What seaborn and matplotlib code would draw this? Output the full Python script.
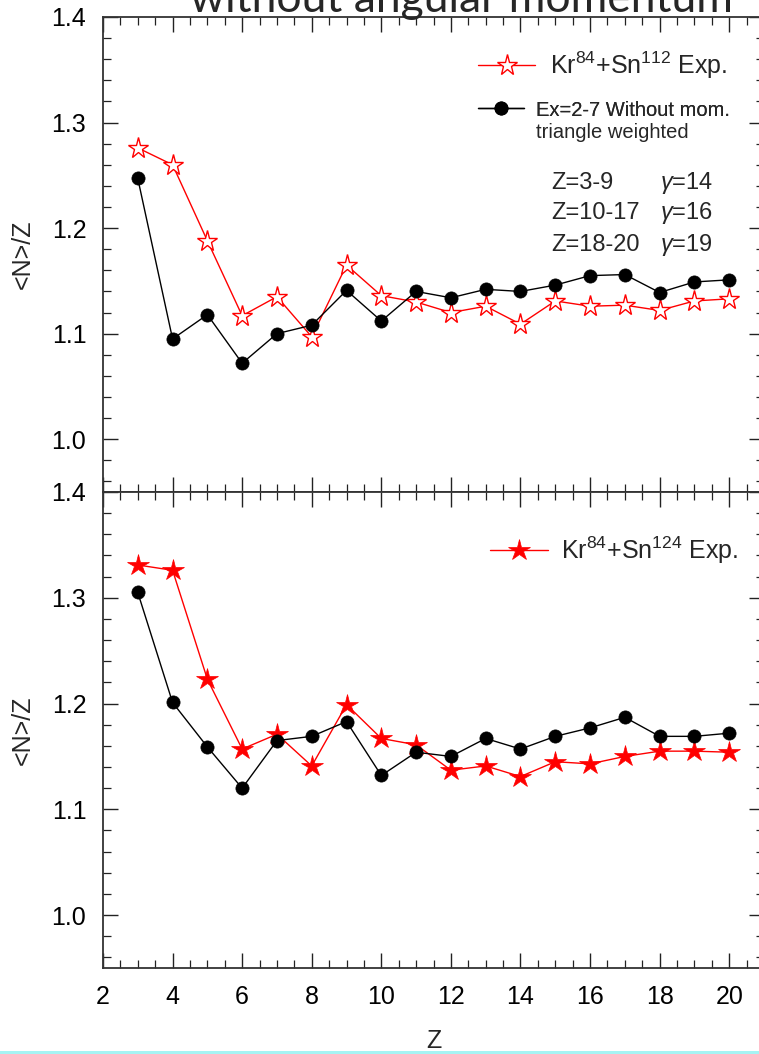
import matplotlib
matplotlib.use("Agg")
import matplotlib.pyplot as plt
import seaborn as sns
import pandas as pd
from matplotlib.ticker import MultipleLocator, FormatStrFormatter
from matplotlib.patches import Rectangle

# ---------------- data ----------------
Z = list(range(3, 21))
exp_sn112 = [1.276, 1.260, 1.188, 1.117, 1.135, 1.097, 1.165, 1.136, 1.130,
             1.120, 1.126, 1.109, 1.131, 1.126, 1.127, 1.122, 1.131, 1.133]
calc_top = [1.247, 1.095, 1.118, 1.072, 1.100, 1.108, 1.141, 1.112, 1.140,
            1.134, 1.142, 1.140, 1.146, 1.155, 1.156, 1.139, 1.149, 1.151]
exp_sn124 = [1.331, 1.326, 1.223, 1.157, 1.171, 1.141, 1.199, 1.167, 1.161,
             1.137, 1.141, 1.131, 1.145, 1.143, 1.150, 1.155, 1.155, 1.154]
calc_bottom = [1.305, 1.201, 1.159, 1.120, 1.165, 1.169, 1.183, 1.132, 1.154,
               1.150, 1.167, 1.157, 1.169, 1.177, 1.187, 1.169, 1.169, 1.172]

label_sn112 = "Kr$^{84}$+Sn$^{112}$ Exp."
label_sn124 = "Kr$^{84}$+Sn$^{124}$ Exp."
label_calc_1 = "Ex=2-7 Without mom."
label_calc_2 = "triangle weighted"
gamma_z = ["Z=3-9", "Z=10-17", "Z=18-20"]
gamma_v = ["$\\mathit{\\gamma}$=14", "$\\mathit{\\gamma}$=16", "$\\mathit{\\gamma}$=19"]
title = "without angular momentum"

# ---------------- style ----------------
sns.set_theme(style="ticks")
plt.rcParams["font.family"] = ["Liberation Sans", "DejaVu Sans"]
plt.rcParams["mathtext.fontset"] = "custom"
plt.rcParams["mathtext.rm"] = "Liberation Sans"
plt.rcParams["mathtext.it"] = "Liberation Sans:italic"
plt.rcParams["mathtext.default"] = "regular"

W, H = 759, 1054
fig = plt.figure(figsize=(W / 100, H / 100), dpi=100)
fig.patch.set_facecolor("white")


def fx(px):
    return px / W


def fy(py):
    return 1 - py / H


L, R = 103, 764
ax1 = fig.add_axes([fx(L), fy(492), (R - L) / W, (492 - 17) / H])
ax2 = fig.add_axes([fx(L), fy(968), (R - L) / W, (968 - 492) / H])

df_top = pd.DataFrame({"Z": Z, "exp": exp_sn112, "calc": calc_top})
df_bot = pd.DataFrame({"Z": Z, "exp": exp_sn124, "calc": calc_bottom})

# top panel
sns.lineplot(data=df_top, x="Z", y="exp", ax=ax1, color="red", linewidth=1.0,
             marker="*", markersize=15.5, markerfacecolor="white",
             markeredgecolor="red", markeredgewidth=1.0, legend=False)
sns.lineplot(data=df_top, x="Z", y="calc", ax=ax1, color="black", linewidth=1.0,
             marker="o", markersize=9.5, markerfacecolor="black",
             markeredgecolor="black", markeredgewidth=0.5, legend=False)
# bottom panel
sns.lineplot(data=df_bot, x="Z", y="exp", ax=ax2, color="red", linewidth=1.0,
             marker="*", markersize=16, markerfacecolor="red",
             markeredgecolor="red", markeredgewidth=0.5, legend=False)
sns.lineplot(data=df_bot, x="Z", y="calc", ax=ax2, color="black", linewidth=1.0,
             marker="o", markersize=9.5, markerfacecolor="black",
             markeredgecolor="black", markeredgewidth=0.5, legend=False)

for ax in (ax1, ax2):
    ax.set_xlim(2, 21)
    ax.set_ylim(0.95, 1.4)
    ax.xaxis.set_major_locator(MultipleLocator(2))
    ax.xaxis.set_minor_locator(MultipleLocator(0.5))
    ax.yaxis.set_major_locator(MultipleLocator(0.1))
    ax.yaxis.set_minor_locator(MultipleLocator(0.02))
    ax.yaxis.set_major_formatter(FormatStrFormatter("%.1f"))
    ax.tick_params(which="both", direction="in", top=True, right=True,
                   colors="#222222", labelcolor="black")
    ax.tick_params(which="major", length=11, width=1.0, labelsize=18, pad=12)
    ax.tick_params(which="minor", length=5.5, width=0.9)
    for s in ax.spines.values():
        s.set_linewidth(1.3)
        s.set_color("#333333")
    ax.set_ylabel("<N>/Z", fontsize=18)
    ax.set_xlabel("")
    ax.set_facecolor("white")

ax1.tick_params(labelbottom=False)
ax1.yaxis.set_label_coords((23 - L) / (R - L), 1 - (254 - 17) / 475)
ax2.yaxis.set_label_coords((23 - L) / (R - L), 1 - (730 - 492) / 476)
ax1.yaxis.label.set_va("center")
ax2.yaxis.label.set_va("center")
ax2.set_xlabel("Z", fontsize=18)
ax2.xaxis.label.set_va("center")
ax2.xaxis.set_label_coords((434 - L) / (R - L), -(1041 - 968) / 476)

# legends top
l_exp = ax1.lines[0]
l_calc = ax1.lines[1]
fs1 = 18
em1 = fs1 * 100 / 72
leg1 = ax1.legend([l_exp], [label_sn112], loc="center left",
                  bbox_to_anchor=((478 - L) / (R - L), 1 - (65 - 17) / 475),
                  frameon=False, fontsize=fs1, borderpad=0, borderaxespad=0,
                  handlelength=57 / em1, handletextpad=15 / em1)
ax1.add_artist(leg1)
fs2 = 14.5
em2 = fs2 * 100 / 72
leg2 = ax1.legend([l_calc], [label_calc_1], loc="center left",
                  bbox_to_anchor=((478 - L) / (R - L), 1 - (110 - 17) / 475),
                  frameon=False, fontsize=fs2, borderpad=0, borderaxespad=0,
                  handlelength=46 / em2, handletextpad=12 / em2)
ax1.add_artist(leg2)
ax1.text((536 - L) / (R - L), 1 - (132 - 17) / 475, label_calc_2,
         transform=ax1.transAxes, fontsize=fs2, ha="left", va="center")

ys = [183, 213, 245]
for zt, gt, yp in zip(gamma_z, gamma_v, ys):
    ax1.text((551 - L) / (R - L), 1 - (yp - 17) / 475, zt, transform=ax1.transAxes,
             fontsize=17, ha="left", va="center")
    ax1.text((660 - L) / (R - L), 1 - (yp - 17) / 475, gt, transform=ax1.transAxes,
             fontsize=17, ha="left", va="center")

# legend bottom
l_exp2 = ax2.lines[0]
ax2.legend([l_exp2], [label_sn124], loc="center left",
           bbox_to_anchor=((490 - L) / (R - L), 1 - (550 - 492) / 476),
           frameon=False, fontsize=fs1, borderpad=0, borderaxespad=0,
           handlelength=58 / em1, handletextpad=13 / em1)

# partially visible title (cut by the top edge, as in the original slide)
fig.text(fx(461), fy(12), title, ha="center", va="baseline", fontsize=32,
         family=["Lato", "DejaVu Sans"])

# light cyan strip at bottom
fig.add_artist(Rectangle((0, 0), 1, 3 / H, transform=fig.transFigure,
                         facecolor="#a6f3f3", edgecolor="none"))

fig.savefig("out.png", dpi=100)
